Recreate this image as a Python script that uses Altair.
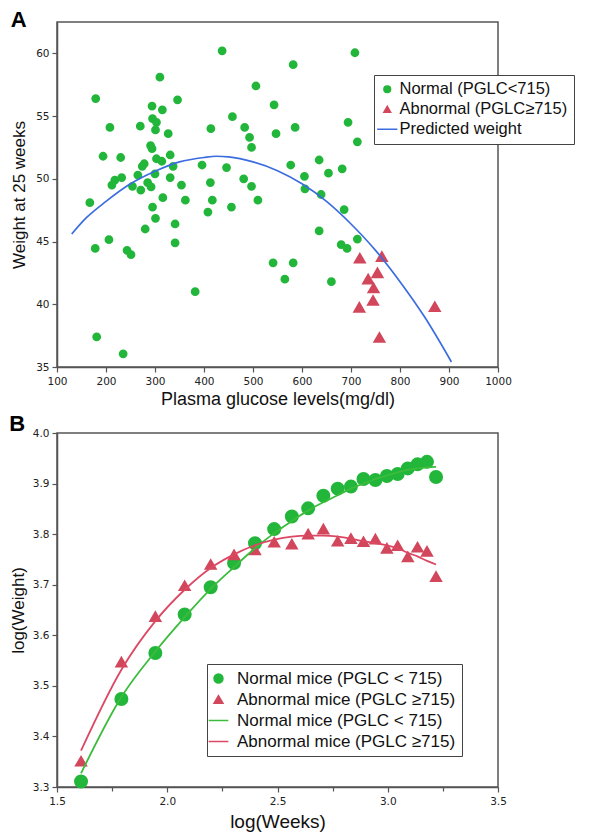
import altair as alt
import pandas as pd

GREEN = "#22b63a"
RED = "#d2475b"
BLUE = "#3b6de0"
GREEN_LINE = "#3cbc3c"
RED_LINE = "#dc4863"

# ---------------- Panel A data ----------------
normal_glucose = [179, 208, 194, 230, 167, 212, 218, 232, 254, 271, 265, 274, 278, 270, 294, 295,
                  303, 301, 291, 294, 310, 315, 327, 346, 303, 314, 331, 285, 292, 300, 337, 331,
                  354, 316, 295, 362, 396, 437, 414, 446, 413, 417, 408, 456, 458, 506, 483, 493,
                  497, 481, 497, 510, 543, 547, 577, 582, 586, 178, 206, 243, 251, 280, 301, 341,
                  341, 382, 181, 235, 541, 565, 582, 708, 694, 713, 635, 605, 654, 682, 606, 639,
                  686, 635, 713, 680, 692, 660]
normal_weight = [56.4, 54.1, 51.8, 51.7, 48.1, 49.5, 49.9, 50.1, 49.4, 49.1, 50.3, 51.0, 51.2, 54.2, 55.8, 54.8,
                 54.5, 53.9, 52.65, 52.4, 58.1, 55.5, 53.6, 56.3, 51.6, 51.4, 51.9, 49.7, 49.35, 50.4, 51.0, 50.1,
                 49.5, 48.5, 47.75, 48.3, 51.1, 60.2, 54.0, 50.9, 49.7, 48.3, 47.35, 47.75, 54.95, 57.4, 54.1, 53.3,
                 52.5, 50.0, 49.4, 48.3, 55.9, 53.6, 51.1, 59.1, 54.1, 44.45, 45.15, 44.3, 43.95, 46.0, 46.85, 46.4,
                 44.9, 41.0, 37.4, 36.05, 43.3, 42.0, 43.3, 60.05, 54.5, 52.95, 51.5, 50.2, 50.45, 50.8, 49.2, 48.75,
                 47.55, 45.85, 45.2, 44.75, 44.45, 41.8]
abnormal_glucose = [718, 763, 754, 735, 746, 745, 717, 871, 758]
abnormal_weight = [43.67, 43.8, 42.5, 42.0, 41.3, 40.3, 39.75, 39.8, 37.35]
pred_glucose = [130, 160, 200, 250, 300, 350, 400, 425, 450, 500, 550, 600, 650, 700, 750, 800, 850, 905]
pred_weight = [45.6, 46.9, 48.2, 49.6, 50.6, 51.35, 51.7, 51.8, 51.75, 51.35, 50.65, 49.6, 48.2, 46.4, 44.3, 41.8, 39.0, 35.4]
labels_A = ["Normal (PGLC<715)", "Abnormal (PGLC\u2265715)", "Predicted weight"]

# ---------------- Panel B data ----------------
log_weeks = [1.609, 1.792, 1.946, 2.079, 2.197, 2.303, 2.398, 2.485, 2.565, 2.639, 2.708,
             2.773, 2.833, 2.890, 2.944, 2.996, 3.045, 3.091, 3.135, 3.178, 3.219]
normal_logw = [3.311, 3.474, 3.565, 3.641, 3.695, 3.743, 3.782, 3.810, 3.835, 3.851, 3.876,
               3.890, 3.894, 3.909, 3.907, 3.915, 3.919, 3.930, 3.938, 3.943, 3.913]
abnormal_logw = [3.351, 3.547, 3.637, 3.698, 3.740, 3.759, 3.769, 3.784, 3.780, 3.800, 3.810,
                 3.786, 3.791, 3.785, 3.790, 3.772, 3.777, 3.755, 3.774, 3.766, 3.716]
normal_fit = [3.327, 3.478, 3.568, 3.636, 3.692, 3.735, 3.772, 3.802, 3.826, 3.847, 3.863,
              3.877, 3.890, 3.900, 3.909, 3.916, 3.922, 3.927, 3.930, 3.932, 3.933]
abnormal_fit = [3.372, 3.532, 3.628, 3.690, 3.733, 3.760, 3.778, 3.789, 3.795, 3.797, 3.797,
                3.795, 3.791, 3.786, 3.782, 3.778, 3.772, 3.763, 3.756, 3.747, 3.740]
labels_B = ["Normal mice (PGLC < 715)", "Abnormal mice (PGLC \u2265715)",
            "Normal mice (PGLC < 715) fit", "Abnormal mice (PGLC \u2265715) fit"]

# ---------------- Panel A ----------------
dfA = pd.DataFrame({
    "glucose": normal_glucose + abnormal_glucose,
    "weight": normal_weight + abnormal_weight,
    "groupA": [labels_A[0]] * len(normal_glucose) + [labels_A[1]] * len(abnormal_glucose),
})
dfA_pred = pd.DataFrame({"glucose": pred_glucose, "weight": pred_weight})

xA = alt.X("glucose:Q", scale=alt.Scale(domain=[100, 1000], nice=False, zero=False),
           axis=alt.Axis(values=list(range(100, 1001, 100)), format="d",
                         title="Plasma glucose levels(mg/dl)", titleFontSize=18,
                         labelPadding=4, titlePadding=4, tickSize=5))
yA = alt.Y("weight:Q", scale=alt.Scale(domain=[35, 62.5], nice=False, zero=False),
           axis=alt.Axis(values=[35 + 2.5 * i for i in range(12)], format="d",
                         labelExpr="datum.value % 5 === 0 ? datum.label : ''",
                         tickSize={"condition": {"test": "datum.value % 5 !== 0", "value": 3}, "value": 5},
                         title="Weight at 25 weeks", titleFontSize=17, labelPadding=3, titlePadding=7))

legA = alt.Legend(title=None, orient="none", legendX=317, legendY=53, direction="vertical",
                  strokeColor="#444", fillColor="white", padding=6, rowPadding=3,
                  labelFont="Liberation Sans", labelFontSize=16.5, labelColor="#111", labelLimit=400,
                  symbolSize=45, symbolStrokeWidth=1.5, symbolOffset=-1, labelOffset=4)

shapeA = alt.Scale(domain=labels_A, range=["circle", "triangle-up", "M-3,0H3"])
colA = alt.Scale(domain=labels_A, range=[GREEN, RED, BLUE])

baseA = alt.Chart(dfA).encode(
    x=xA, y=yA,
    fill=alt.Fill("groupA:N", scale=colA, legend=legA),
    stroke=alt.Stroke("groupA:N", scale=colA, legend=legA),
    shape=alt.Shape("groupA:N", scale=shapeA, legend=legA),
)
circA = baseA.mark_point(filled=True, opacity=1, size=46).transform_filter(
    alt.datum.groupA == labels_A[0])
triA = baseA.mark_point(filled=True, opacity=1, size=100).transform_filter(
    alt.datum.groupA == labels_A[1])
lineA = alt.Chart(dfA_pred).mark_line(color=BLUE, strokeWidth=1.7, interpolate="monotone").encode(
    x="glucose:Q", y="weight:Q")

chartA = alt.layer(circA, triA, lineA).properties(
    width=441, height=345,
    title=alt.TitleParams(text="A", anchor="start", frame="bounds", fontSize=22, fontWeight="bold",
                          font="Liberation Sans", color="black", offset=-10))

# ---------------- Panel B ----------------
nW = len(log_weeks)
dfB = pd.DataFrame({
    "logweeks": log_weeks + log_weeks,
    "logweight": normal_logw + abnormal_logw,
    "groupB": [labels_B[0]] * nW + [labels_B[1]] * nW,
})
dfB_fitN = pd.DataFrame({"logweeks": log_weeks, "logweight": normal_fit})
dfB_fitA = pd.DataFrame({"logweeks": log_weeks, "logweight": abnormal_fit})

xB = alt.X("logweeks:Q", scale=alt.Scale(domain=[1.5, 3.5], nice=False, zero=False),
           axis=alt.Axis(values=[1.5 + 0.25 * i for i in range(9)],
                         labelExpr="(datum.value * 2) % 1 === 0 ? format(datum.value, '.1f') : ''",
                         tickSize={"condition": {"test": "(datum.value * 2) % 1 !== 0", "value": 4}, "value": 5},
                         title="log(Weeks)", titleFontSize=19,
                         labelPadding=4, titlePadding=6))
yB = alt.Y("logweight:Q", scale=alt.Scale(domain=[3.3, 4.0], nice=False, zero=False),
           axis=alt.Axis(values=[3.3, 3.4, 3.5, 3.6, 3.7, 3.8, 3.9, 4.0], format=".1f",
                         title="log(Weight)", titleFontSize=17, labelPadding=3, titlePadding=5, tickSize=5))

legB = alt.Legend(title=None, orient="none", legendX=150, legendY=231, direction="vertical",
                  strokeColor="#444", fillColor="white", padding=6, rowPadding=3,
                  labelFont="Liberation Sans", labelFontSize=17, labelColor="#111", labelLimit=400,
                  labelExpr="replace(datum.label, ' fit', '')",
                  symbolSize=80, symbolStrokeWidth=1.5, symbolOffset=-3, labelOffset=10)

shapeB = alt.Scale(domain=labels_B, range=["circle", "triangle-up", "M-2.2,0H2.2", "M-2.2,0H2.2"])
colB = alt.Scale(domain=labels_B, range=[GREEN, RED, GREEN_LINE, RED_LINE])

baseB = alt.Chart(dfB).encode(
    x=xB, y=yB,
    fill=alt.Fill("groupB:N", scale=colB, legend=legB),
    stroke=alt.Stroke("groupB:N", scale=colB, legend=legB),
    shape=alt.Shape("groupB:N", scale=shapeB, legend=legB),
)
circB = baseB.mark_point(filled=True, opacity=1, size=144).transform_filter(
    alt.datum.groupB == labels_B[0])
triB = baseB.mark_point(filled=True, opacity=1, size=100).transform_filter(
    alt.datum.groupB == labels_B[1])
lineBN = alt.Chart(dfB_fitN).mark_line(color=GREEN_LINE, strokeWidth=1.8, interpolate="monotone").encode(
    x="logweeks:Q", y="logweight:Q")
lineBA = alt.Chart(dfB_fitA).mark_line(color=RED_LINE, strokeWidth=1.8, interpolate="monotone").encode(
    x="logweeks:Q", y="logweight:Q")

chartB = alt.layer(circB, triB, lineBN, lineBA).properties(
    width=441, height=354,
    title=alt.TitleParams(text="B", anchor="start", frame="bounds", fontSize=22, fontWeight="bold",
                          font="Liberation Sans", color="black", offset=-8))

chart = alt.vconcat(chartA, chartB, spacing=2).resolve_scale(
    fill="independent", stroke="independent", shape="independent"
).resolve_legend(
    fill="independent", stroke="independent", shape="independent"
).configure(
    padding={"left": 0, "top": 0, "right": 0, "bottom": 0}, font="Liberation Sans"
).configure_view(
    stroke="#555", strokeWidth=1.5
).configure_axis(
    domainColor="#555", domainWidth=1.5, tickColor="#555", tickWidth=1.2,
    labelFont="DejaVu Sans", labelFontSize=10.5, labelColor="#222", labelFlush=False,
    titleFont="Liberation Sans", titleFontWeight="normal", titleColor="#111", grid=False
)

chart.save("out.html", embed_options={"renderer": "svg", "actions": False})
